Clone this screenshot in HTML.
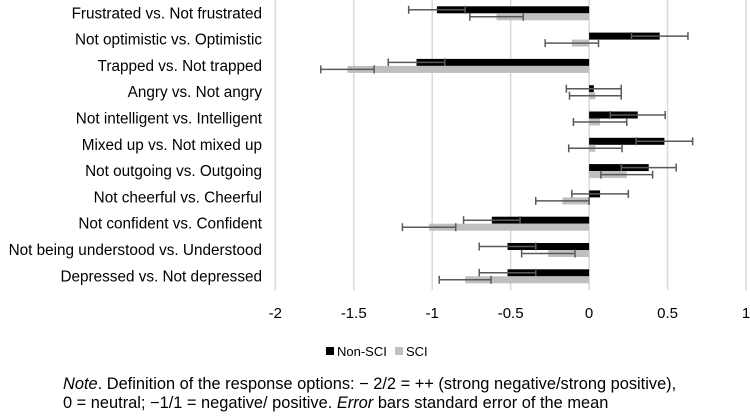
<!DOCTYPE html>
<html><head><meta charset="utf-8"><style>
html,body{margin:0;padding:0;background:#fff;}
svg{display:block;font-family:"Liberation Sans",sans-serif;}
</style></head><body>
<svg id="chart" width="750" height="420" viewBox="0 0 750 420" xmlns="http://www.w3.org/2000/svg"></svg>
<script>
const categories=["Frustrated vs. Not frustrated","Not optimistic vs. Optimistic","Trapped vs. Not trapped","Angry vs. Not angry","Not intelligent vs. Intelligent","Mixed up vs. Not mixed up","Not outgoing vs. Outgoing","Not cheerful vs. Cheerful","Not confident vs. Confident","Not being understood vs. Understood","Depressed vs. Not depressed"];
const nonSciValues=[-0.97,0.45,-1.10,0.03,0.31,0.48,0.38,0.07,-0.62,-0.52,-0.52];
const nonSciErrors=[0.18,0.18,0.18,0.175,0.175,0.18,0.175,0.18,0.18,0.18,0.18];
const sciValues=[-0.59,-0.11,-1.54,0.04,0.07,0.04,0.24,-0.17,-1.02,-0.26,-0.79];
const sciErrors=[0.17,0.17,0.17,0.165,0.17,0.17,0.165,0.17,0.17,0.17,0.165];
const xTicks=[-2,-1.5,-1,-0.5,0,0.5,1];
const xTickLabels=["-2","-1.5","-1","-0.5","0","0.5","1"];

const svg=document.getElementById('chart');
const NS='http://www.w3.org/2000/svg';
const x0=275.3,x1=746,xmin=-2,xmax=1;
const xs=v=>x0+(v-xmin)/(xmax-xmin)*(x1-x0);
const rowTop=0,rowH=26.3;
const yc=i=>rowTop+13.3+i*rowH;
const barH=7;
function mk(tag,attrs,parent){const e=document.createElementNS(NS,tag);for(const k in attrs)e.setAttribute(k,attrs[k]);(parent||svg).appendChild(e);return e;}

const grid=mk('g',{});


xTicks.forEach((t,i)=>{
  const l=mk('line',{x1:xs(t),x2:xs(t),y1:0,y2:290,stroke:'#d9d9d9','stroke-width':1.5},grid);
  
  
  const tx=mk('text',{x:xs(t),y:318,'text-anchor':'middle','font-size':15,fill:'#000'});
  
  
  tx.textContent=xTickLabels[i];
});

function drawBar(v,err,yTop,color,name){
  const a=xs(0),b=xs(v);
  const r=mk('rect',{x:Math.min(a,b),y:yTop,width:Math.abs(b-a),height:barH,fill:color});
  
  
  const cy=yTop+barH/2;
  const g=mk('g',{stroke:'#595959','stroke-width':1.5});
  
  
  const l=xs(v-err),rr=xs(v+err);
  mk('line',{x1:l,x2:rr,y1:cy,y2:cy},g);
  mk('line',{x1:l,x2:l,y1:cy-4,y2:cy+4},g);
  mk('line',{x1:rr,x2:rr,y1:cy-4,y2:cy+4},g);
}

categories.forEach((c,i)=>{
  const t=mk('text',{x:262,y:yc(i)+5,'text-anchor':'end','font-size':15.3,fill:'#000'});
  
  
  t.textContent=c;
  drawBar(nonSciValues[i],nonSciErrors[i],yc(i)-barH,'#000','bar-non-sci');
  drawBar(sciValues[i],sciErrors[i],yc(i),'#bfbfbf','bar-sci');
});
</script>
<svg style="position:absolute;left:0;top:0" width="750" height="420">
<g font-family="Liberation Sans, sans-serif" font-size="13">
<rect x="326" y="347" width="8" height="8" fill="#000"/>
<text x="337" y="356">Non-SCI</text>
<rect x="395" y="347" width="8" height="8" fill="#bfbfbf"/>
<text x="406" y="356">SCI</text>
</g>
<g font-family="Liberation Sans, sans-serif" font-size="16.4">
<text x="63" y="389"><tspan font-style="italic">Note</tspan>. Definition of the response options: − 2/2 = ++ (strong negative/strong positive),</text>
<text x="63" y="408">0 = neutral; −1/1 = negative/ positive. <tspan font-style="italic">Error</tspan> bars standard error of the mean</text>
</g>
</svg>
</body></html>
